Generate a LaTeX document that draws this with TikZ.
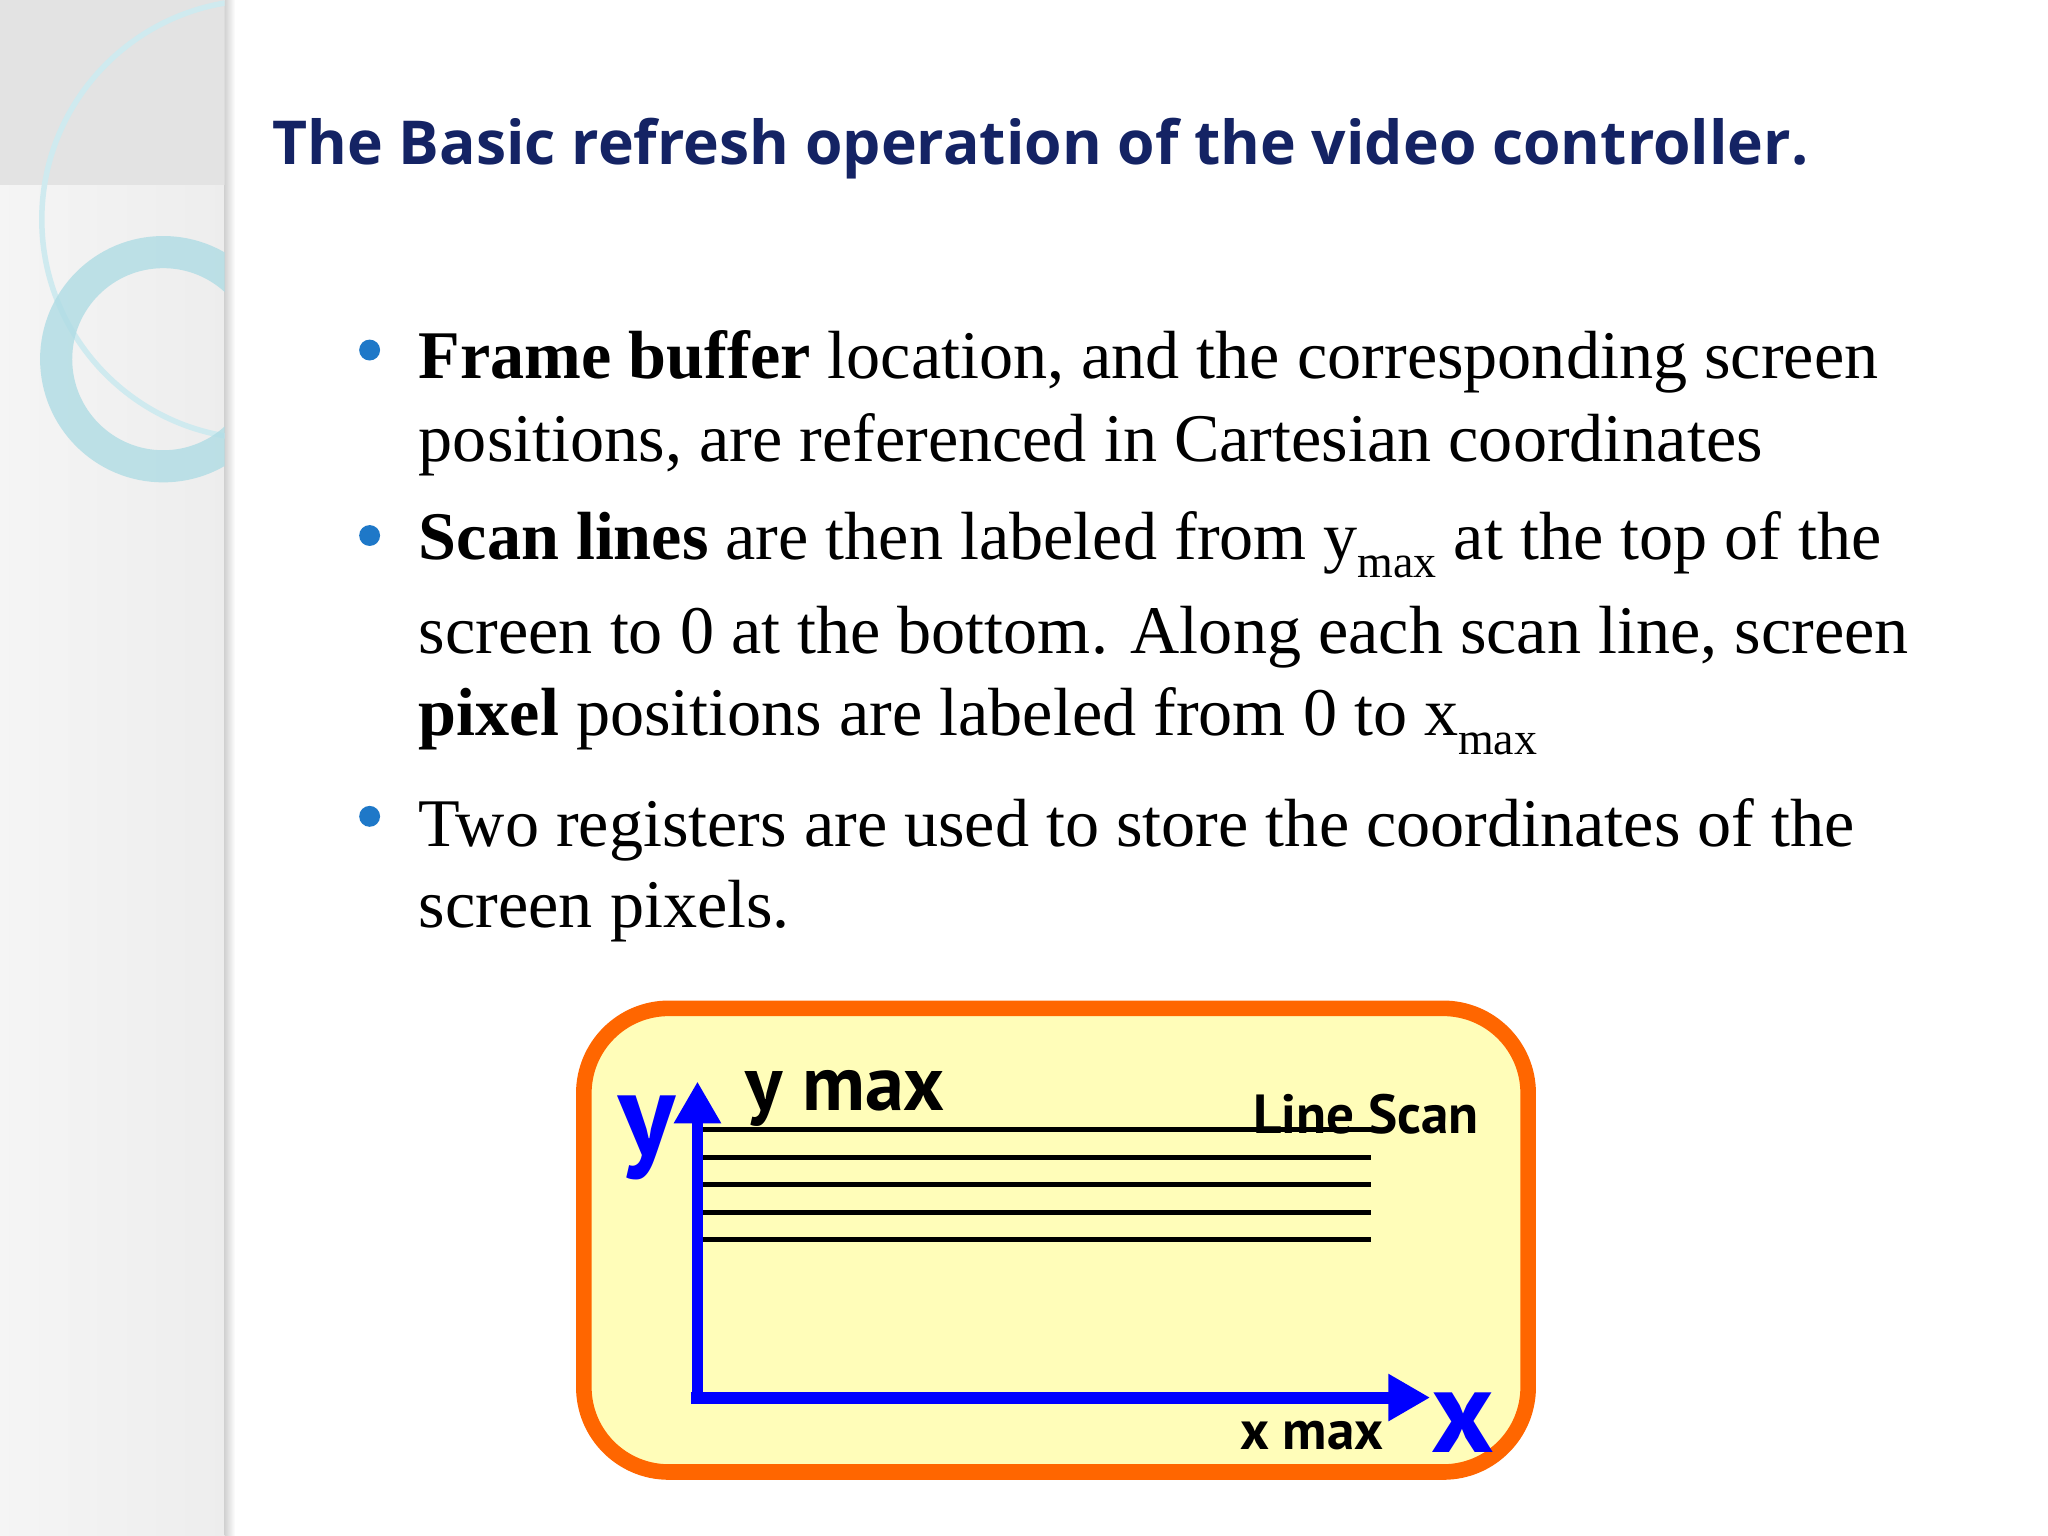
\documentclass[tikz,border=0pt]{standalone}
\usepackage{fontspec}
\setmainfont{Liberation Serif}
\newfontfamily\titlefont{Open Sans}
\newfontfamily\labelfont{PT Sans}
\usetikzlibrary{arrows.meta}
\definecolor{titleblue}{RGB}{20,35,100}
\definecolor{bulletblue}{RGB}{30,120,200}
\definecolor{ringblue}{RGB}{175,220,228}
\definecolor{boxorange}{RGB}{255,102,0}
\definecolor{boxfill}{RGB}{255,253,185}
\definecolor{axisblue}{RGB}{0,0,255}
\tikzset{
  txt/.style={anchor=base west, inner sep=0pt, font=\fontsize{14.85}{18}\selectfont},
  dot/.style={circle, fill=bulletblue, inner sep=0pt, minimum size=1.6mm},
  scanline/.style={line width=1.1pt, black},
  axis/.style={axisblue, line width=2.6pt, -{Triangle[length=3.2mm, width=3.4mm]}},
  lbl/.style={inner sep=0pt, font=\labelfont\bfseries\fontsize{12}{12}\selectfont}
}
\begin{document}
\begin{tikzpicture}[x=0.1mm, y=-0.1mm]
  \useasboundingbox (0,0) rectangle (1568,1176);
  % side panel
  \fill[white] (0,0) rectangle (1568,1176);
  \shade[left color=gray!8, right color=gray!14] (0,0) rectangle (172,1176);
  \shade[left color=gray!35, right color=white] (172,0) rectangle (180,1176);
  \begin{scope}
    \clip (0,0) rectangle (172,1176);
    \fill[gray!22] (0,0) rectangle (185,142);
    \draw[ringblue!60, line width=1.2pt] (200,168) circle (168);
    \draw[ringblue, line width=7pt, opacity=0.8] (125,275) circle (82);
  \end{scope}
  % title
  \node[anchor=base west, inner sep=0pt, text=titleblue,
        font=\titlefont\bfseries\fontsize{13.2}{15}\selectfont] (title) at (208,126)
        {The Basic refresh operation of the video controller.};
  % bullets
  \node[dot] (b1) at (283,268) {};
  \node[dot] (b2) at (283,410) {};
  \node[dot] (b3) at (283,625) {};
  \node[txt] (l1) at (320,290) {\textbf{Frame buffer} location, and the corresponding screen};
  \node[txt] (l2) at (320,353) {positions, are referenced in Cartesian coordinates};
  \node[txt] (l3) at (320,428) {\textbf{Scan lines} are then labeled from y\raisebox{-0.6ex}{\fontsize{10}{10}\selectfont max} at the top of the};
  \node[txt] (l4) at (320,500) {screen to 0 at the bottom. Along each scan line, screen};
  \node[txt] (l5) at (320,563) {\textbf{pixel} positions are labeled from 0 to x\raisebox{-0.6ex}{\fontsize{10}{10}\selectfont max}};
  \node[txt] (l6) at (320,648) {Two registers are used to store the coordinates of the};
  \node[txt] (l7) at (320,710) {screen pixels.};
  % screen box
  \draw[boxorange, fill=boxfill, line width=3.4pt, rounded corners=6.5mm]
    (447,772) rectangle (1170,1127);
  \foreach \yy in {865,886,907,928,949}
    \draw[scanline] (533,\yy) -- (1050,\yy);
  \coordinate (origin) at (534,1070);
  \coordinate (ytop) at (534,828);
  \coordinate (xend) at (1095,1070);
  \draw[axis] (origin) -- (ytop);
  \draw[axis] ([xshift=-0.5mm]origin) -- (xend);
  \node[lbl, anchor=base west, font=\labelfont\bfseries\fontsize{17}{17}\selectfont] (ymax) at (570,850) {y max};
  \node[lbl, anchor=base east] (scan) at (1133,868) {Line Scan};
  \node[lbl, anchor=base east] (xmax) at (1060,1110) {x max};
  \node[anchor=base, inner sep=0pt, text=axisblue, font=\labelfont\bfseries\fontsize{26}{26}\selectfont] (ylab) at (495,885) {y};
  \node[anchor=base, inner sep=0pt, text=axisblue, font=\labelfont\bfseries\fontsize{26}{26}\selectfont] (xlab) at (1120,1112) {x};
\end{tikzpicture}
\end{document}
